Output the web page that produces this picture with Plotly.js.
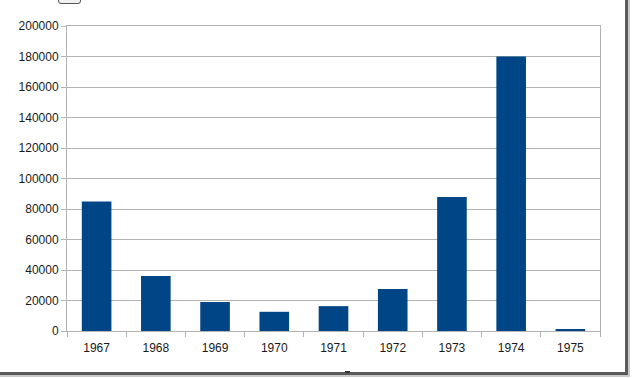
<!DOCTYPE html>
<html>
<head>
<meta charset="utf-8">
<script src="https://cdn.plot.ly/plotly-3.0.1.min.js"></script>
<style>
  html, body { margin: 0; padding: 0; background: #fff; }
  #wrap { position: relative; width: 632px; height: 378px; overflow: hidden; }
  #chart { position: absolute; left: 0; top: 0; width: 632px; height: 378px; }
  #frameR { position: absolute; left: 625px; top: 0; width: 3px; height: 375px; background: #5a5a5a; }
  #frameR2 { position: absolute; left: 628px; top: 0; width: 2px; height: 376px; background: #c8c8c8; }
  #frameB { position: absolute; left: 0; top: 372px; width: 628px; height: 3px; background: #5a5a5a; }
  #frameB2 { position: absolute; left: 0; top: 375px; width: 630px; height: 2px; background: #c8c8c8; }
  #handle { position: absolute; left: 58px; top: -6px; width: 21px; height: 8px; border: 1px solid #555; border-radius: 3px; background: #f0f0f0; }
  #mark { position: absolute; left: 345px; top: 371px; width: 5px; height: 2px; background: #333; }
</style>
</head>
<body>
<div id="wrap">
  <div id="chart"></div>
  <div id="handle"></div>
  <div id="frameR"></div>
  <div id="frameR2"></div>
  <div id="frameB"></div>
  <div id="frameB2"></div>
  <div id="mark"></div>
</div>
<script>
const years = ['1967', '1968', '1969', '1970', '1971', '1972', '1973', '1974', '1975'];
const values = [85000, 36000, 19000, 12600, 16300, 27500, 87800, 180000, 1300];
const yTicks = [0, 20000, 40000, 60000, 80000, 100000, 120000, 140000, 160000, 180000, 200000];

const trace = {
  type: 'bar',
  x: years,
  y: values,
  marker: { color: '#004586', line: { width: 0 } },
  hoverinfo: 'x+y'
};

const layout = {
  width: 632,
  height: 378,
  margin: { l: 67, r: 32, t: 26, b: 47, pad: 0 },
  paper_bgcolor: '#ffffff',
  plot_bgcolor: '#ffffff',
  showlegend: false,
  bargap: 0.5,
  font: { family: 'Liberation Sans, Arial, sans-serif', size: 12, color: '#1a1a1a' },
  xaxis: {
    type: 'category',
    showline: true,
    linecolor: '#b3b3b3',
    linewidth: 1,
    mirror: true,
    ticks: 'outside',
    tickson: 'boundaries',
    ticklen: 5,
    tickcolor: '#b3b3b3',
    ticklabelstandoff: 6,
    showgrid: false,
    fixedrange: true
  },
  yaxis: {
    range: [0, 200000],
    tickmode: 'array',
    tickvals: yTicks,
    ticktext: yTicks.map(String),
    showline: true,
    linecolor: '#b3b3b3',
    linewidth: 1,
    mirror: true,
    ticks: 'outside',
    ticklen: 5,
    tickcolor: '#b3b3b3',
    showgrid: true,
    gridcolor: '#b3b3b3',
    gridwidth: 1,
    zeroline: false,
    fixedrange: true
  }
};

Plotly.newPlot('chart', [trace], layout, { displayModeBar: false, staticPlot: true });
</script>
</body>
</html>
